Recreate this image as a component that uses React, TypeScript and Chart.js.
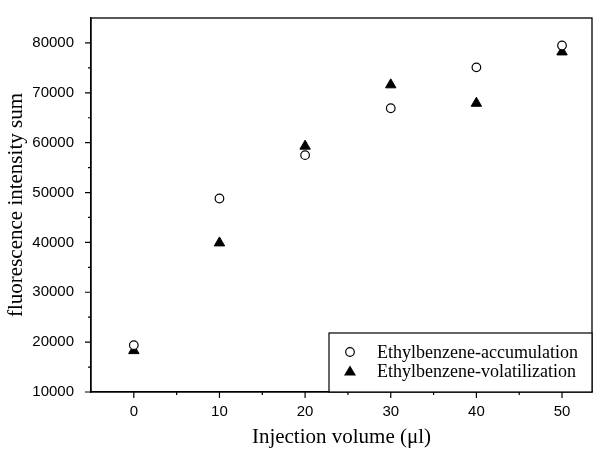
import React, { useEffect, useRef } from "react";
import { Chart, registerables } from "chart.js";

Chart.register(...registerables);

const injectionVolumes = [0, 10, 20, 30, 40, 50];
const accumulation = [19400, 48800, 57500, 66900, 75100, 79500];
const volatilization = [18300, 39900, 59300, 71600, 67900, 78200];
const xTickValues = [0, 10, 20, 30, 40, 50];
const yTickValues = [10000, 20000, 30000, 40000, 50000, 60000, 70000, 80000];
const xMinorValues = [-5, 5, 15, 25, 35, 45];
const yMinorValues = [15000, 25000, 35000, 45000, 55000, 65000, 75000, 85000];

const SERIF = "'Liberation Serif', 'Times New Roman', serif";
const SANS = "'Liberation Sans', Arial, sans-serif";

const framePlugin = {
  id: "frameAndTicks",
  afterDraw(chart: any) {
    const { ctx, chartArea } = chart;
    const xs = chart.scales.x;
    const ys = chart.scales.y;
    ctx.save();
    ctx.strokeStyle = "#000";
    ctx.lineWidth = 1.3;
    ctx.strokeRect(chartArea.left, chartArea.top, chartArea.right - chartArea.left, chartArea.bottom - chartArea.top);
    ctx.lineWidth = 1.2;
    ctx.beginPath();
    for (const v of xTickValues) {
      const p = xs.getPixelForValue(v);
      ctx.moveTo(p, chartArea.bottom);
      ctx.lineTo(p, chartArea.bottom + 6);
    }
    for (const v of xMinorValues) {
      const p = xs.getPixelForValue(v);
      if (p < chartArea.left + 1) continue;
      ctx.moveTo(p, chartArea.bottom);
      ctx.lineTo(p, chartArea.bottom + 3);
    }
    for (const v of yTickValues) {
      const p = ys.getPixelForValue(v);
      ctx.moveTo(chartArea.left, p);
      ctx.lineTo(chartArea.left - 6, p);
    }
    for (const v of yMinorValues) {
      const p = ys.getPixelForValue(v);
      if (p < chartArea.top + 1) continue;
      ctx.moveTo(chartArea.left, p);
      ctx.lineTo(chartArea.left - 3, p);
    }
    ctx.stroke();

    // legend box
    const bx = 329;
    const by = 333;
    const bw = chartArea.right - bx;
    const bh = chartArea.bottom - by;
    ctx.fillStyle = "#fff";
    ctx.fillRect(bx, by, bw, bh);
    ctx.lineWidth = 1.2;
    ctx.strokeRect(bx, by, bw, bh);
    ctx.font = `18px ${SERIF}`;
    ctx.fillStyle = "#000";
    ctx.textBaseline = "middle";
    const rows = [by + 19, by + 38];
    chart.data.datasets.forEach((ds: any, i: number) => {
      const cx = 350;
      const cy = rows[i];
      ctx.beginPath();
      if (ds.pointStyle === "triangle") {
        ctx.moveTo(cx, cy - 5.5);
        ctx.lineTo(cx + 6, cy + 4.5);
        ctx.lineTo(cx - 6, cy + 4.5);
        ctx.closePath();
        ctx.fill();
      } else {
        ctx.arc(cx, cy, 4.3, 0, Math.PI * 2);
        ctx.lineWidth = 1.2;
        ctx.stroke();
      }
      ctx.fillText(ds.label, 377, cy + 1);
    });
    ctx.restore();
  },
};

export default function App() {
  const ref = useRef<HTMLCanvasElement | null>(null);
  useEffect(() => {
    document.body.style.margin = "0";
    const canvas = ref.current!;
    const chart = new Chart(canvas, {
      type: "scatter",
      data: {
        datasets: [
          {
            label: "Ethylbenzene-accumulation",
            data: injectionVolumes.map((x, i) => ({ x, y: accumulation[i] })),
            pointStyle: "circle",
            pointRadius: 4.3,
            pointBackgroundColor: "#fff",
            pointBorderColor: "#000",
            pointBorderWidth: 1.2,
          },
          {
            label: "Ethylbenzene-volatilization",
            data: injectionVolumes.map((x, i) => ({ x, y: volatilization[i] })),
            pointStyle: "triangle",
            pointRadius: 6,
            pointBackgroundColor: "#000",
            pointBorderColor: "#000",
            pointBorderWidth: 1,
          },
        ],
      },
      options: {
        animation: false,
        responsive: false,
        layout: { padding: { top: 10, right: 14, left: 0, bottom: 0 } },
        plugins: { legend: { display: false }, tooltip: { enabled: false } },
        scales: {
          x: {
            type: "linear",
            min: -5,
            max: 53.5,
            afterBuildTicks: (s: any) => {
              s.ticks = xTickValues.map((v) => ({ value: v }));
            },
            afterFit: (s: any) => {
              s.height = 58;
            },
            grid: { display: false },
            border: { display: true, color: "#000", width: 1.3 },
            ticks: {
              color: "#000",
              font: { family: SANS, size: 15 },
              padding: 3,
              maxRotation: 0,
              callback: (v: any) => String(v),
            },
            title: {
              display: true,
              text: "Injection volume (μl)",
              color: "#000",
              font: { family: SERIF, size: 21 },
              padding: { top: 0, bottom: 0 },
            },
          },
          y: {
            type: "linear",
            min: 10000,
            max: 85000,
            afterBuildTicks: (s: any) => {
              s.ticks = yTickValues.map((v) => ({ value: v }));
            },
            afterFit: (s: any) => {
              s.width = 91;
            },
            grid: { display: false },
            border: { display: true, color: "#000", width: 1.3 },
            ticks: {
              color: "#000",
              font: { family: SANS, size: 15 },
              padding: 9,
              callback: (v: any) => String(v),
            },
            title: {
              display: true,
              text: "fluorescence intensity sum",
              color: "#000",
              font: { family: SERIF, size: 21 },
              padding: { top: 4, bottom: 0 },
            },
          },
        },
      },
      plugins: [framePlugin],
    } as any);
    return () => chart.destroy();
  }, []);
  return <canvas ref={ref} width={606} height={450} style={{ display: "block" }} />;
}
